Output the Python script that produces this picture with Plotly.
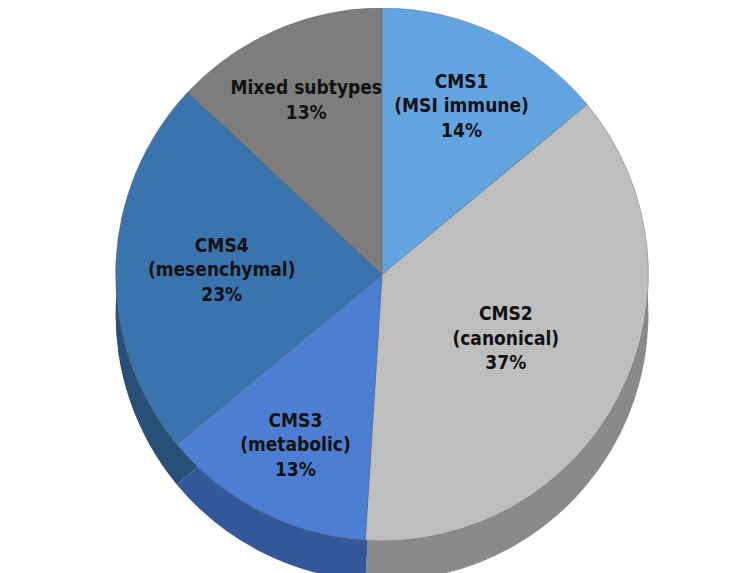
import plotly.graph_objects as go

# -----------------------------
# Data
# -----------------------------
labels = ["CMS1<br>(MSI immune)", "CMS2<br>(canonical)", "CMS3<br>(metabolic)",
          "CMS4<br>(mesenchymal)", "Mixed subtypes"]
values = [14, 37, 13, 23, 13]

TOP_COLORS = ["#62A4E0", "#BEBEBE", "#4C7ED3", "#3A74AE", "#7D7D7D"]
SIDE_COLORS = ["#3E6F9E", "#8A8A8A", "#34579A", "#284F78", "#5A5A5A"]

fig = go.Figure()

# side of the "3d" disc: same pie, darker, shifted down
fig.add_trace(go.Pie(
    labels=labels,
    values=values,
    sort=False,
    direction="clockwise",
    rotation=0,
    marker=dict(colors=SIDE_COLORS, line=dict(width=0)),
    textinfo="none",
    hoverinfo="skip",
    showlegend=False,
    domain=dict(x=[0, 1], y=[0, 0.93]),
))

# top face
fig.add_trace(go.Pie(
    labels=labels,
    values=values,
    sort=False,
    direction="clockwise",
    rotation=0,
    marker=dict(colors=TOP_COLORS, line=dict(color="#666666", width=0.4)),
    texttemplate="<b>%{label}</b><br><b>%{percent:.0%}</b>",
    textposition="inside",
    insidetextorientation="horizontal",
    textfont=dict(family="DejaVu Sans Condensed, DejaVu Sans", size=19, color="#111111"),
    showlegend=False,
    domain=dict(x=[0, 1], y=[0.07, 1]),
))

fig.update_layout(
    width=748,
    height=573,
    margin=dict(l=0, r=0, t=0, b=0),
    paper_bgcolor="white",
    plot_bgcolor="white",
    uniformtext=dict(minsize=19, mode="show"),
)

fig.write_html("out.html")
